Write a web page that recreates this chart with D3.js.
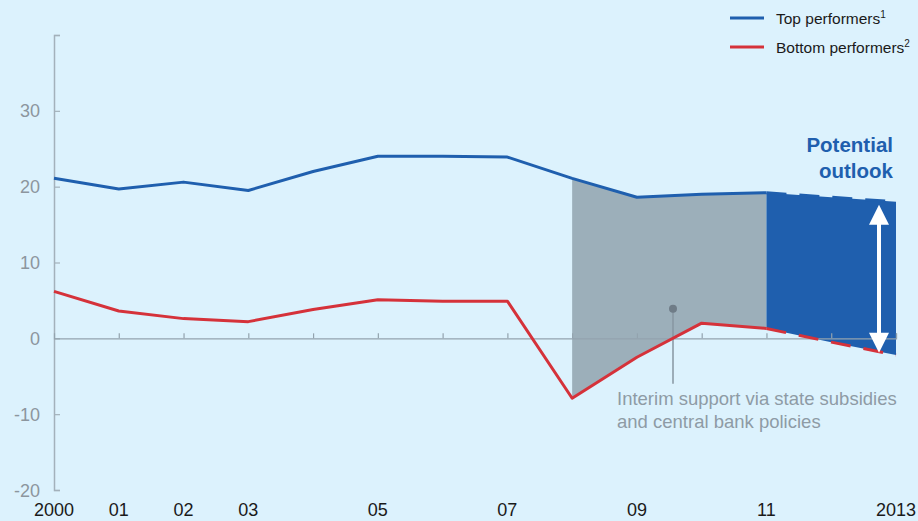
<!DOCTYPE html>
<html>
<head>
<meta charset="utf-8">
<script src="https://cdn.jsdelivr.net/npm/d3@7"></script>
<style>
  html, body { margin: 0; padding: 0; background: #dcf2fd; }
  svg { display: block; font-family: "Liberation Sans", Arial, sans-serif; }
</style>
</head>
<body>
<svg id="chart" width="918" height="521"></svg>
<script>
// Historical spread between top and bottom performers
const years = [2000, 2001, 2002, 2003, 2004, 2005, 2006, 2007, 2008, 2009, 2010, 2011];
const topPerformers = [21.1, 19.7, 20.6, 19.5, 22.0, 24.0, 24.0, 23.9, 21.1, 18.6, 19.0, 19.2];
const bottomPerformers = [6.2, 3.6, 2.6, 2.2, 3.8, 5.1, 4.9, 4.9, -7.9, -2.5, 2.0, 1.3];

// Outlook years
const outlookYears = [2011, 2012, 2013];
const topOutlook = [19.2, 18.6, 18.0];
const bottomOutlook = [1.3, -0.5, -2.2];

// Support period (shaded grey)
const supportStart = 2008, supportEnd = 2011;

const xTickValues = [2000, 2001, 2002, 2003, 2005, 2007, 2009, 2011, 2013];
const xTickLabels = ["2000", "01", "02", "03", "05", "07", "09", "11", "2013"];
const yTickValues = [-20, -10, 0, 10, 20, 30];

const legendItems = [
  { label: "Top performers", sup: "1", color: "#1f5fae" },
  { label: "Bottom performers", sup: "2", color: "#d5323a" }
];

const BLUE = "#1f5fae", RED = "#d5323a", GREY_FILL = "#9cafba", AXIS = "#93a3ae";

const svg = d3.select("#chart");
const x = d3.scaleLinear().domain([2000, 2013]).range([54, 896]);
const y = d3.scaleLinear().domain([-20, 40]).range([490, 35]);

const hist = years.map((yr, i) => ({ yr, top: topPerformers[i], bot: bottomPerformers[i] }));
const outlook = outlookYears.map((yr, i) => ({ yr, top: topOutlook[i], bot: bottomOutlook[i] }));

const area = d3.area().x(d => x(d.yr)).y0(d => y(d.bot)).y1(d => y(d.top));

// grey band over the support period
svg.append("path")
  .datum(hist.filter(d => d.yr >= supportStart && d.yr <= supportEnd))
  .attr("d", area)
  .attr("fill", GREY_FILL);

// blue outlook band
svg.append("path")
  .datum(outlook)
  .attr("d", area)
  .attr("fill", BLUE);

// y axis
const yAxis = d3.axisRight(y).tickValues(yTickValues.concat([40])).tickSize(6).tickFormat("");
const yg = svg.append("g").attr("transform", `translate(${x(2000)},0)`).call(yAxis);
yg.select(".domain").attr("stroke", "#a3b1bb").attr("stroke-width", 1.5);
yg.selectAll(".tick line").attr("stroke", "#a3b1bb").attr("stroke-width", 1.2);

svg.append("g").selectAll("text")
  .data(yTickValues)
  .join("text")
  .attr("x", 40)
  .attr("y", d => y(d) + 6.5)
  .attr("text-anchor", "end")
  .attr("font-size", 18)
  .attr("fill", "#8c969e")
  .text(d => d);

// zero line with year ticks
const xAxis = d3.axisTop(x).tickValues(d3.range(2001, 2014)).tickSize(5).tickFormat("");
const xg = svg.append("g").attr("transform", `translate(0,${y(0)})`).call(xAxis);
xg.select(".domain").attr("stroke", AXIS).attr("stroke-width", 1.2);
xg.selectAll(".tick line").attr("stroke", AXIS).attr("stroke-width", 1.2);

// x tick labels
svg.append("g").selectAll("text")
  .data(xTickValues)
  .join("text")
  .attr("x", d => x(d))
  .attr("y", 516)
  .attr("text-anchor", "middle")
  .attr("font-size", 18)
  .attr("fill", "#1a1a1a")
  .text((d, i) => xTickLabels[i]);

// annotation pointer
const pointer = svg.append("g");
pointer.append("line")
  .attr("x1", 673).attr("x2", 673)
  .attr("y1", y(3.9)).attr("y2", y(-6.0))
  .attr("stroke", "#8796a1").attr("stroke-width", 1.5);
pointer.append("circle")
  .attr("cx", 673).attr("cy", y(3.9)).attr("r", 4)
  .attr("fill", "#6f7c87");

// lines
const line = d3.line().x(d => x(d.yr));
svg.append("path").datum(hist)
  .attr("d", line.y(d => y(d.top)))
  .attr("fill", "none").attr("stroke", BLUE).attr("stroke-width", 3).attr("stroke-linejoin", "round");
svg.append("path").datum(hist)
  .attr("d", line.y(d => y(d.bot)))
  .attr("fill", "none").attr("stroke", RED).attr("stroke-width", 3).attr("stroke-linejoin", "round");

// dashed outlook lines
svg.append("path").datum(outlook)
  .attr("d", line.y(d => y(d.top)))
  .attr("fill", "none").attr("stroke", BLUE).attr("stroke-width", 3).attr("stroke-dasharray", "20,13");
svg.append("path").datum(outlook)
  .attr("d", line.y(d => y(d.bot)))
  .attr("fill", "none").attr("stroke", RED).attr("stroke-width", 3).attr("stroke-dasharray", "20,13");

// double-headed arrow across the outlook band
const ax = 879;
const aTop = y(17.6), aBot = y(-1.9);
const arrow = svg.append("g").attr("fill", "#ffffff");
arrow.append("rect").attr("x", ax - 2).attr("y", aTop + 18).attr("width", 4).attr("height", aBot - aTop - 36);
arrow.append("path").attr("d", `M${ax},${aTop} L${ax + 10},${aTop + 20} L${ax - 10},${aTop + 20} Z`);
arrow.append("path").attr("d", `M${ax},${aBot} L${ax + 10},${aBot - 20} L${ax - 10},${aBot - 20} Z`);

// outlook label
const outlookLabel = svg.append("text")
  .attr("text-anchor", "end")
  .attr("font-size", 20.5)
  .attr("font-weight", "bold")
  .attr("fill", BLUE);
outlookLabel.append("tspan").attr("x", 893).attr("y", 152).text("Potential");
outlookLabel.append("tspan").attr("x", 893).attr("y", 178).text("outlook");

// annotation text
const note = svg.append("text")
  .attr("font-size", 18.5)
  .attr("fill", "#8e9ba5");
note.append("tspan").attr("x", 617).attr("y", 405).text("Interim support via state subsidies");
note.append("tspan").attr("x", 617).attr("y", 428).text("and central bank policies");

// legend
const legend = svg.append("g");
legendItems.forEach((item, i) => {
  const ly = 18 + i * 29;
  legend.append("line")
    .attr("x1", 730).attr("x2", 764)
    .attr("y1", ly).attr("y2", ly)
    .attr("stroke", item.color).attr("stroke-width", 3);
  const t = legend.append("text")
    .attr("x", 776).attr("y", ly + 6)
    .attr("font-size", 15.5)
    .attr("fill", "#1a1a1a");
  t.append("tspan").text(item.label);
  t.append("tspan").attr("font-size", 10).attr("dy", -6).text(item.sup);
});
</script>
</body>
</html>
